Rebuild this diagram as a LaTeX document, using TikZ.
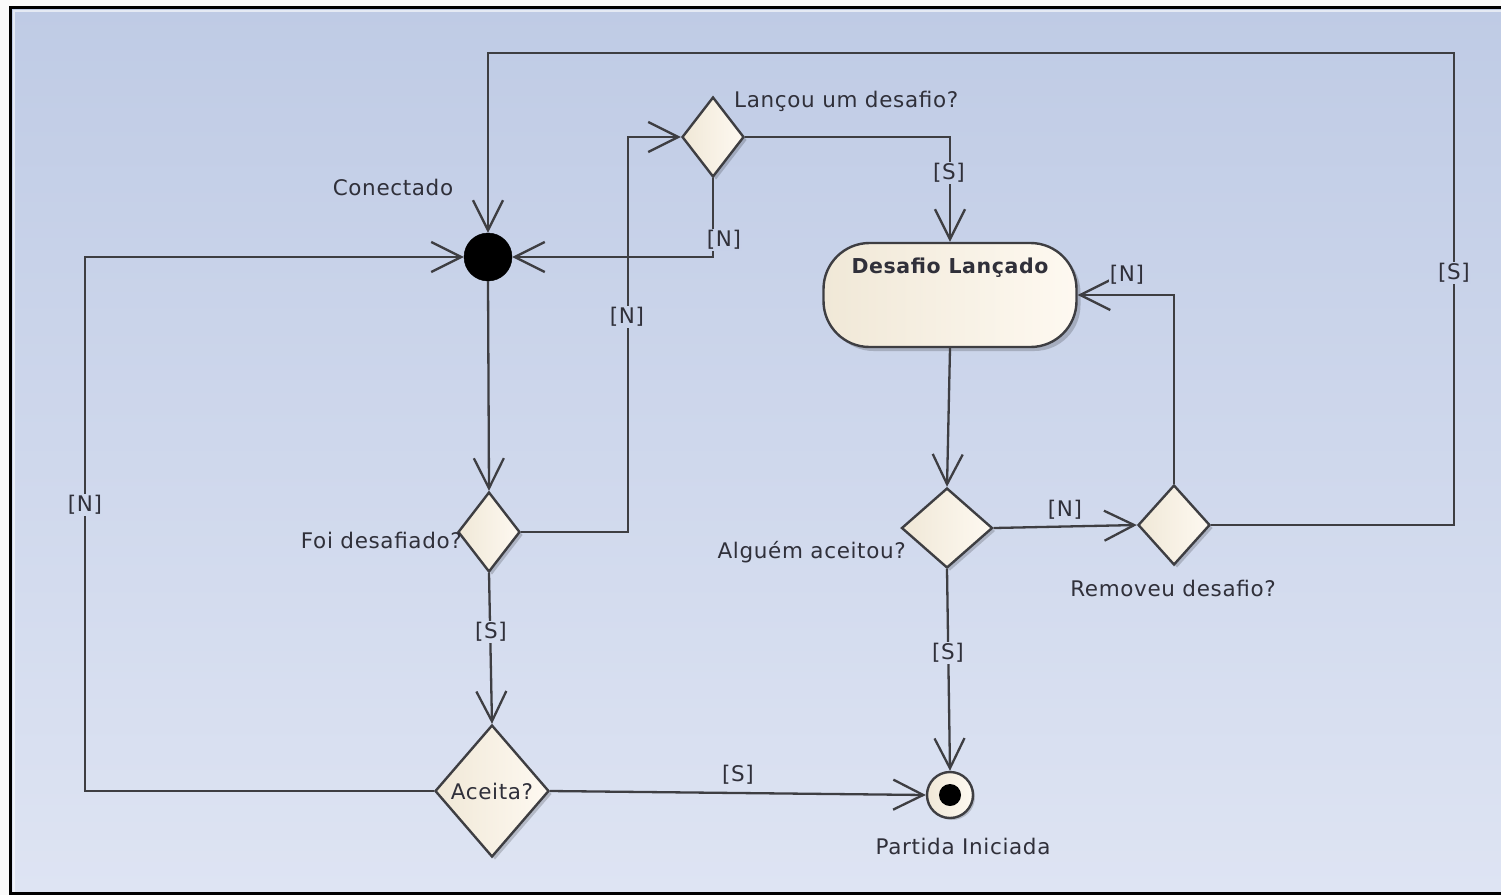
\documentclass[tikz,border=0pt]{standalone}
\usepackage{fontspec}
\setmainfont{DejaVu Sans}[LetterSpace=3]
\usetikzlibrary{arrows.meta,shapes.geometric,shadows}

\definecolor{bgtop}{RGB}{191,203,229}
\definecolor{bgbot}{RGB}{222,228,243}
\definecolor{edgegray}{RGB}{62,62,66}
\definecolor{ink}{RGB}{48,48,58}
\definecolor{creamA}{RGB}{240,232,215}
\definecolor{creamB}{RGB}{254,249,241}

\tikzset{
  x=1pt, y=-1pt,
  txt/.style={text=ink, font=\fontsize{21.5}{25}\selectfont, inner sep=1pt},
  flow/.style={draw=edgegray, line width=2.3pt,
    -{Straight Barb[length=30pt,width=30pt,line width=2.3pt]}},
  decision/.style={diamond, draw=edgegray, line width=2.4pt, inner sep=0pt,
    left color=creamA, right color=creamB,
    drop shadow={shadow xshift=3pt, shadow yshift=-3pt, opacity=0.18, fill=black}},
  activity/.style={rectangle, rounded corners=46pt, draw=edgegray, line width=2.4pt,
    left color=creamA, right color=creamB, minimum width=253pt,
    inner xsep=0pt, inner ysep=8pt, text height=22pt, text depth=66pt,
    text=ink, font=\fontsize{20.5}{24}\selectfont\bfseries,
    drop shadow={shadow xshift=4pt, shadow yshift=-4pt, opacity=0.18, fill=black}},
  guard/.style={txt, fill=#1},
  guard/.default=bgtop
}

\begin{document}
\begin{tikzpicture}
  \useasboundingbox (0,0) rectangle (1501,895);
  % page and frame
  \fill[white!96!gray] (0,0) rectangle (1501,895);
  \shade[top color=bgtop, bottom color=bgbot] (10,7) rectangle (1520,893);
  \draw[white, opacity=0.6, line width=1.5pt] (14,893) -- (14,11) -- (1520,11);
  \draw[black, line width=3pt] (10,7) rectangle (1520,893);

  % nodes
  \node[circle, fill=black, draw=black, minimum size=48pt, inner sep=0pt] (start) at (488,257) {};
  \node[txt] (startLbl) at (393,187) {Conectado};

  \node[decision, minimum width=62pt, minimum height=80pt] (lanc) at (713,137) {};
  \node[txt, anchor=west] (lancLbl) at (733,101) {Lançou um desafio?};

  \node[activity] (acao) at (950,295) {Desafio Lançado};

  \node[decision, minimum width=62pt, minimum height=80pt] (foi) at (489,532) {};
  \node[txt, anchor=east] (foiLbl) at (463,540) {Foi desafiado?};

  \node[decision, minimum width=114pt, minimum height=132pt, txt] (aceita) at (492,791) {Aceita?};

  \node[decision, minimum width=91pt, minimum height=80pt] (alg) at (947,528) {};
  \node[txt, anchor=east] (algLbl) at (907,552) {Alguém aceitou?};

  \node[decision, minimum width=72pt, minimum height=80pt] (rem) at (1174,525) {};
  \node[txt] (remLbl) at (1173,588) {Removeu desafio?};

  \node[circle, draw=edgegray, line width=2.4pt, left color=creamA, right color=creamB,
        minimum size=46pt, inner sep=0pt,
        drop shadow={shadow xshift=2pt, shadow yshift=-2pt, opacity=0.18, fill=black}] (fim) at (950,795) {};
  \node[circle, fill=black, minimum size=22pt, inner sep=0pt] (fimDot) at (fim.center) {};
  \node[txt] (fimLbl) at (963,846) {Partida Iniciada};

  % bend points
  \coordinate (kFoi) at (628,137);
  \coordinate (kTop) at (1454,53);
  \coordinate (kLeft) at (85,257);

  % connectors
  \draw[flow] (start.south) -- (foi.north);
  \draw[flow] (foi.east) -| (kFoi) -- (lanc.west);
  \draw[flow] (lanc.south) |- (start.east);
  \draw[flow] (lanc.east) -| (acao.north);
  \draw[flow] (acao.south) -- (alg.north);
  \draw[flow] (alg.east) -- (rem.west);
  \draw[flow] (rem.north) |- (acao.east);
  \draw[flow] (rem.east) -| (kTop) -| (start.north);
  \draw[flow] (alg.south) -- (fim.north);
  \draw[flow] (foi.south) -- (aceita.north);
  \draw[flow] (aceita.west) -| (kLeft) -- (start.west);
  \draw[flow] (aceita.east) -- (fim.west);

  % guards
  \node[guard=bgbot!19!bgtop] (gS1) at (949,173) {[S]};
  \node[guard=bgbot!26!bgtop] (gN1) at (724,240) {[N]};
  \node[guard=bgbot!35!bgtop] (gN2) at (627,317) {[N]};
  \node[guard=bgbot!30!bgtop] (gS2) at (1454,273) {[S]};
  \node[guard=bgbot!30!bgtop] (gN3) at (1127,275) {[N]};
  \node[guard=bgbot!57!bgtop] (gN4) at (1065,510) {[N]};
  \node[guard=bgbot!56!bgtop] (gN5) at (85,505) {[N]};
  \node[guard=bgbot!70!bgtop] (gS3) at (491,632) {[S]};
  \node[guard=bgbot!73!bgtop] (gS4) at (948,653) {[S]};
  \node[guard=bgbot!87!bgtop] (gS5) at (738,775) {[S]};
\end{tikzpicture}
\end{document}
